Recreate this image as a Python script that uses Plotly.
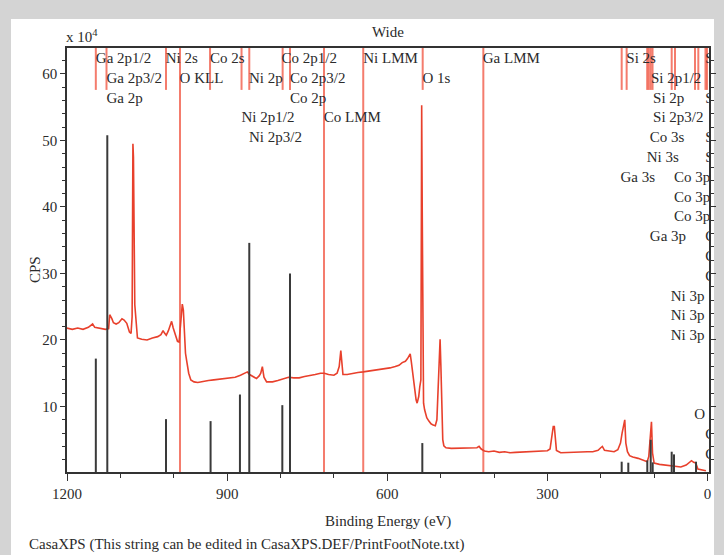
import plotly.graph_objects as go

# ---------------- data ----------------
# measured survey spectrum (Binding energy eV, CPS x10^4)
spec_be = [1201, 1190, 1180, 1170, 1160, 1152, 1148, 1138, 1128, 1122, 1120, 1116, 1113, 1108,
           1103, 1097, 1093, 1088, 1083, 1080, 1078, 1076.5, 1075.5, 1073, 1070, 1068, 1060,
           1050, 1040, 1030, 1024, 1020, 1017, 1014, 1010, 1006, 1004, 1001, 997, 993, 990,
           988, 984, 982, 980, 978, 975, 972, 968, 962, 955, 945, 935, 925, 915, 905, 895,
           885, 875, 866, 862, 858, 850, 845, 840, 837, 834, 831, 826, 815, 805, 795, 785,
           775, 765, 755, 745, 735, 725, 718, 710, 700, 694, 690, 687, 685, 683, 675, 665,
           655, 645, 635, 625, 615, 605, 595, 585, 578, 572, 566, 562, 557, 555, 552, 549,
           546, 544, 541, 539, 537, 536, 535.5, 534.5, 533.5, 532, 530, 526, 522, 518, 514,
           510, 507, 505, 503, 501, 499.5, 498, 496, 494, 490, 480, 470, 460, 450, 440, 432,
           428, 424, 418, 410, 400, 390, 380, 370, 360, 350, 340, 330, 320, 310, 300, 295,
           291, 289, 287, 285, 283, 275, 265, 255, 245, 235, 225, 215, 205, 200, 197, 193,
           185, 175, 168, 163, 160, 155, 153, 150, 146, 140, 130, 120, 113, 110, 105, 103,
           100, 90, 80, 70, 60, 50, 40, 33, 30, 26, 22, 18, 10, 3]
spec_cps = [21.8, 21.6, 21.8, 21.6, 21.9, 22.4, 21.9, 21.8, 21.6, 21.7, 23.8, 23.2, 22.6, 22.4,
            22.6, 23.2, 23.0, 22.5, 21.2, 21.0, 23.5, 49.5, 47.5, 25.3, 21.5, 20.3, 20.1,
            20.0, 20.3, 20.5, 20.8, 21.4, 21.0, 20.7, 21.4, 22.3, 22.8, 21.8, 20.6, 19.8, 19.7,
            21.5, 25.4, 24.5, 21.0, 18.0, 16.5, 15.0, 14.0, 13.7, 13.6, 13.8, 13.9, 14.0, 14.1, 14.2, 14.3,
            14.4, 14.7, 15.0, 15.2, 14.8, 14.4, 14.2, 14.6, 15.0, 16.0, 14.4, 13.7, 13.7, 13.9, 14.1, 14.4,
            14.3, 14.3, 14.5, 14.6, 14.8, 15.0, 15.0, 14.8, 14.7, 15.0, 16.0, 18.4, 16.0, 14.8, 14.8, 15.0,
            15.1, 15.2, 15.3, 15.4, 15.5, 15.6, 15.8, 16.0, 16.2, 16.6, 16.8, 17.2, 17.9, 16.8, 15.0, 12.5,
            11.0, 10.5, 11.5, 13.0, 14.0, 40.0, 55.3, 40.0, 14.0, 10.5, 9.5, 8.3, 7.8, 7.4, 7.2,
            7.1, 8.0, 12.0, 16.0, 20.1, 16.0, 9.0, 5.0, 4.1, 3.8, 3.7, 3.7, 3.75, 3.7, 3.7, 3.8,
            4.0, 3.6, 3.3, 3.2, 3.3, 3.1, 3.2, 3.05, 3.1, 3.15, 3.2, 3.2, 3.25, 3.3, 3.35, 3.6,
            5.5, 7.0, 7.0, 4.5, 3.4, 3.05, 3.1, 3.15, 3.2, 3.25, 3.2, 3.2, 3.4, 3.8, 4.0, 3.4,
            3.3, 3.2, 3.5, 4.5, 6.0, 8.0, 4.5, 3.2, 2.6, 2.4, 2.2, 1.9, 1.7, 2.5, 7.7, 3.0,
            1.5, 1.3, 1.2, 1.05, 0.95, 0.9, 1.2, 1.7, 1.85, 1.6, 1.5, 0.6, 0.45, 0.35]

# reference library lines (black)
ref_be = [1146, 1124.5, 1014.5, 931, 876, 858.5, 796.6, 782.2, 534.3,
          160.8, 148.4, 112.8, 106.4, 102.7, 67.1, 62.8, 21.5]
ref_cps = [17.2, 50.8, 8.1, 7.8, 11.8, 34.6, 10.2, 30.0, 4.5,
           1.7, 1.55, 1.9, 5.0, 1.6, 3.2, 2.8, 1.7]

# peak marker positions (red)
mark_short_be = [1146, 1126, 1014.5, 932, 873, 858.5, 796, 782.2, 533.6,
                 160.8, 151.5, 113, 110, 106.4, 103, 67.1, 60.9, 23.4, 17.2, 3.8, 1.0]
mark_long_be = [988.3, 718.5, 645, 420]

# peak labels
label_text = ["Ga 2p1/2", "Ni 2s", "Co 2s", "Co 2p1/2", "Ni LMM", "Ga LMM", "Si 2s", "S",
              "Ga 2p3/2", "O KLL", "Ni 2p", "Co 2p3/2", "O 1s", "Si 2p1/2",
              "Ga 2p", "Co 2p", "Si 2p", "S",
              "Ni 2p1/2", "Co LMM", "Si 2p3/2",
              "Ni 2p3/2", "Co 3s", "S",
              "Ni 3s", "S",
              "Ga 3s", "Co 3p",
              "Co 3p",
              "Co 3p",
              "Ga 3p", "C",
              "C", "C",
              "Ni 3p", "Ni 3p", "Ni 3p",
              "O 2s", "C", "C"]
label_be = [1146, 1015, 932, 798, 645, 421, 152, 4,
            1126, 989, 859, 782, 534, 106,
            1126, 782, 102, 4,
            873, 719, 102,
            859, 108, 4,
            114, 4,
            163, 63,
            63,
            63,
            108, 4,
            4, 4,
            69, 69, 69,
            25, 4, 4]
label_row = [0, 0, 0, 0, 0, 0, 0, 0,
             1, 1, 1, 1, 1, 1,
             2, 2, 2, 2,
             3, 3, 3,
             4, 4, 4,
             5, 5,
             6, 6,
             7,
             8,
             9, 9,
             10, 11,
             12, 13, 14,
             18, 19, 20]

x_ticks = [1200, 900, 600, 300, 0]
y_ticks = [10, 20, 30, 40, 50, 60]

# ---------------- layout constants ----------------
W, H = 724, 555
ML, MR, MT, MB = 67, 15, 48, 83
PW, PH = W - ML - MR, H - MT - MB
YMIN, YMAX = 0.15, 63.9
XR = [1200, -2.8]
SERIF = "Liberation Serif, Times New Roman, serif"
TXT = "#2b2b2b"

def px2paper_x(px):
    return (px - ML) / PW

def px2paper_y(py):
    return (H - MB - py) / PH

fig = go.Figure()

# red marker lines
mx, my = [], []
for e in mark_short_be:
    mx += [e, e, None]
    my += [YMAX, 57.6, None]
for e in mark_long_be:
    mx += [e, e, None]
    my += [YMAX, YMIN, None]
fig.add_trace(go.Scatter(x=mx, y=my, mode="lines",
                         line=dict(color="rgba(240,80,60,0.75)", width=2),
                         hoverinfo="skip", showlegend=False))

# spectrum
fig.add_trace(go.Scatter(x=spec_be, y=spec_cps, mode="lines",
                         line=dict(color="#e8402c", width=1.6),
                         showlegend=False))

# reference bars
bx, by = [], []
for e, v in zip(ref_be, ref_cps):
    bx += [e, e, None]
    by += [0, v, None]
fig.add_trace(go.Scatter(x=bx, y=by, mode="lines",
                         line=dict(color="#3a3a3a", width=2),
                         hoverinfo="skip", showlegend=False))

# labels (clipped to the plot area)
row0, step = 62.2, 2.977
fig.add_trace(go.Scatter(x=label_be, y=[row0 - step * r for r in label_row],
                         mode="text", text=label_text, textposition="middle right",
                         textfont=dict(family=SERIF, size=15, color=TXT),
                         cliponaxis=True, hoverinfo="skip", showlegend=False))

# white page on gray frame
fig.add_shape(type="rect", xref="paper", yref="paper", layer="below",
              x0=px2paper_x(11), x1=px2paper_x(714), y0=px2paper_y(570), y1=px2paper_y(19),
              fillcolor="white", line=dict(width=0))

def note(text, px, py, xanchor="center", angle=0):
    fig.add_annotation(text=text, x=px2paper_x(px), y=px2paper_y(py), xref="paper", yref="paper",
                       xanchor=xanchor, yanchor="middle", textangle=angle, showarrow=False,
                       font=dict(family=SERIF, size=15, color=TXT))

note("Wide", 388, 32)
note("x 10<sup>4</sup>", 64, 36, xanchor="left")
note("CPS", 35, 270, angle=-90)
note("Binding Energy (eV)", 388, 521)
note("CasaXPS (This string can be edited in CasaXPS.DEF/PrintFootNote.txt)", 27, 544, xanchor="left")

fig.update_layout(
    width=W, height=H,
    margin=dict(l=ML, r=MR, t=MT, b=MB, autoexpand=False),
    paper_bgcolor="#d4d4d4",
    plot_bgcolor="rgba(0,0,0,0)",
    font=dict(family=SERIF, size=15, color=TXT),
    showlegend=False,
    xaxis=dict(range=XR, tickvals=x_ticks, ticktext=[str(v) for v in x_ticks],
               showgrid=False, zeroline=False, showline=True, linecolor="#333", linewidth=1.5,
               mirror=True, ticks="outside", ticklen=7, tickwidth=1.2, tickcolor="#333",
               minor=dict(dtick=100, tick0=0, ticks="outside", ticklen=4, tickcolor="#333"),
               automargin=False, tickfont=dict(size=15)),
    yaxis=dict(range=[YMIN, YMAX], tickvals=y_ticks,
               showgrid=False, zeroline=False, showline=True, linecolor="#333", linewidth=1.5,
               mirror="ticks", ticks="outside", ticklen=5, tickwidth=1.2, tickcolor="#333",
               minor=dict(dtick=2, tick0=0, ticks="outside", ticklen=3, tickcolor="#333"),
               automargin=False, tickfont=dict(size=15)),
)

fig.write_html("out.html", config={"displayModeBar": False},
               post_script="document.body.style.margin='0';")
